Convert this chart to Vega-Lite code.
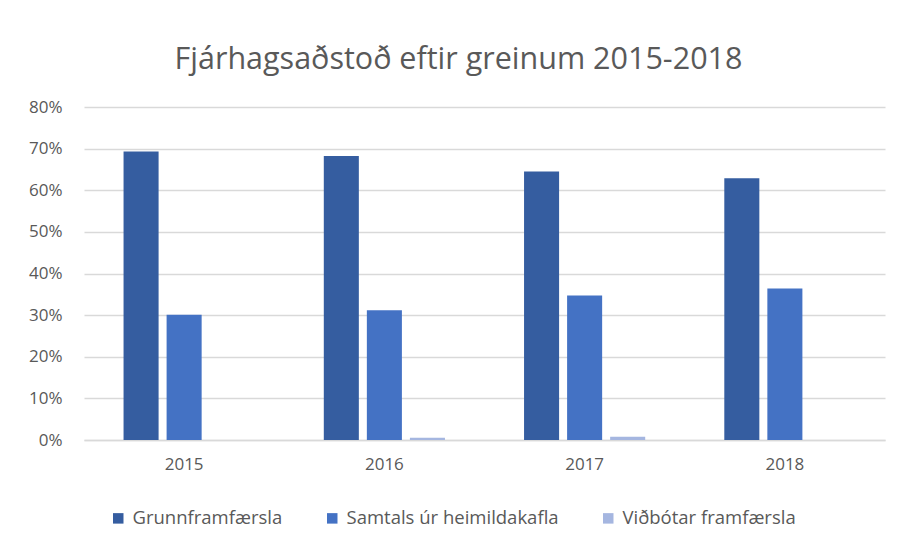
{
  "$schema": "https://vega.github.io/schema/vega-lite/v6.json",
  "autosize": "none",
  "width": 801,
  "height": 333,
  "padding": {"left": 84, "top": 107, "right": 14, "bottom": 106},
  "background": "#ffffff",
  "title": {
    "text": "Fjárhagsaðstoð eftir greinum 2015-2018",
    "font": "Open Sans",
    "fontSize": 30.5,
    "fontWeight": "normal",
    "color": "#595959",
    "anchor": "middle",
    "dx": -26,
    "offset": 23
  },
  "data": {
    "values": [
      {"year": "2015", "series": "Grunnframfærsla", "value": 0.693},
      {"year": "2015", "series": "Samtals úr heimildakafla", "value": 0.301},
      {"year": "2015", "series": "Viðbótar framfærsla", "value": 0.0},
      {"year": "2016", "series": "Grunnframfærsla", "value": 0.682},
      {"year": "2016", "series": "Samtals úr heimildakafla", "value": 0.312},
      {"year": "2016", "series": "Viðbótar framfærsla", "value": 0.0055},
      {"year": "2017", "series": "Grunnframfærsla", "value": 0.645},
      {"year": "2017", "series": "Samtals úr heimildakafla", "value": 0.347},
      {"year": "2017", "series": "Viðbótar framfærsla", "value": 0.008},
      {"year": "2018", "series": "Grunnframfærsla", "value": 0.629},
      {"year": "2018", "series": "Samtals úr heimildakafla", "value": 0.364},
      {"year": "2018", "series": "Viðbótar framfærsla", "value": 0.0}
    ]
  },
  "mark": {"type": "bar"},
  "encoding": {
    "x": {
      "field": "year",
      "type": "nominal",
      "scale": {"paddingInner": 0.395, "paddingOuter": 0.1975},
      "axis": {
        "title": null,
        "labelAngle": 0,
        "labelFont": "Open Sans",
        "labelFontSize": 17,
        "labelColor": "#595959",
        "labelPadding": 16,
        "ticks": false,
        "domainColor": "#d9d9d9",
        "domainWidth": 1.5
      }
    },
    "xOffset": {
      "field": "series",
      "type": "nominal",
      "sort": ["Grunnframfærsla", "Samtals úr heimildakafla", "Viðbótar framfærsla"],
      "scale": {"paddingInner": 0.186, "paddingOuter": 0}
    },
    "y": {
      "field": "value",
      "type": "quantitative",
      "scale": {"domain": [0, 0.8], "nice": false},
      "axis": {
        "title": null,
        "format": ".0%",
        "values": [0, 0.1, 0.2, 0.3, 0.4, 0.5, 0.6, 0.7, 0.8],
        "labelFont": "Open Sans",
        "labelFontSize": 17,
        "labelColor": "#595959",
        "labelPadding": 22,
        "ticks": false,
        "domain": false,
        "grid": true,
        "gridColor": "#d9d9d9",
        "gridWidth": 1.5
      }
    },
    "color": {
      "field": "series",
      "type": "nominal",
      "sort": ["Grunnframfærsla", "Samtals úr heimildakafla", "Viðbótar framfærsla"],
      "scale": {
        "domain": ["Grunnframfærsla", "Samtals úr heimildakafla", "Viðbótar framfærsla"],
        "range": ["#355DA0", "#4472C4", "#A5B6E0"]
      },
      "legend": {
        "title": null,
        "orient": "none",
        "direction": "horizontal",
        "legendX": 25,
        "legendY": 402,
        "symbolType": "square",
        "symbolSize": 110,
        "symbolStrokeWidth": 0,
        "labelFont": "Open Sans",
        "labelFontSize": 18.5,
        "labelColor": "#595959",
        "labelOffset": 5,
        "columnPadding": 40,
        "labelLimit": 400
      }
    }
  },
  "config": {"view": {"stroke": null}}
}
